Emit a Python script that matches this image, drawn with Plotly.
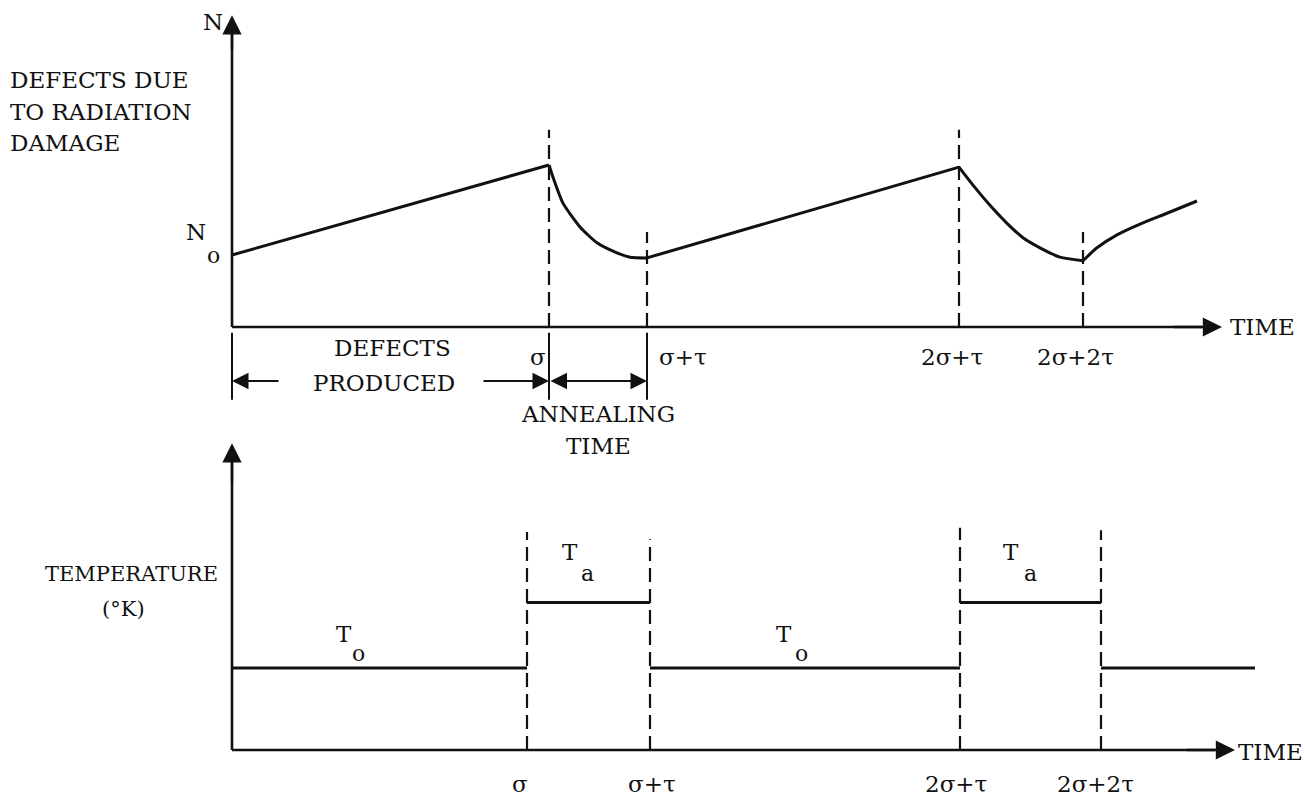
import plotly.graph_objects as go

# ---------------------------------------------------------------------------
# Data (time in arbitrary units, N relative to N0, T relative to T0)
# ---------------------------------------------------------------------------
# Defect density N(t): linear build-up during irradiation, decay while annealing
buildup1_t = [0.0, 3.17]
buildup1_n = [1.00, 2.25]
anneal1_t = [3.17, 3.21, 3.31, 3.48, 3.65, 3.85, 3.98, 4.15]
anneal1_n = [2.25, 2.08, 1.72, 1.39, 1.17, 1.03, 0.97, 0.96]
buildup2_t = [4.15, 7.27]
buildup2_n = [0.96, 2.22]
anneal2_t = [7.27, 7.41, 7.58, 7.75, 7.91, 8.08, 8.28, 8.51]
anneal2_n = [2.22, 1.97, 1.69, 1.44, 1.24, 1.10, 0.97, 0.92]
buildup3_t = [8.51, 8.65, 8.85, 9.08, 9.35, 9.65]
buildup3_n = [0.92, 1.10, 1.28, 1.43, 1.58, 1.75]

# event times on the defect panel: sigma, sigma+tau, 2sigma+tau, 2sigma+2tau
defect_events = [3.17, 4.15, 7.27, 8.51]
defect_event_tops = [2.74, 1.32, 2.74, 1.32]
defect_tick_labels = ["σ", "σ+τ", "2σ+τ", "2σ+2τ"]
n_axis_top = 4.33
n_time_end = 9.90

# Temperature schedule: alternating T0 / Ta
T0 = 1.0
Ta = 1.8
temp_edges = [0.0, 2.95, 4.18, 7.28, 8.69, 10.23]
temp_levels = [T0, Ta, T0, Ta, T0]
temp_event_tops = [2.66, 2.57, 2.71, 2.68]
temp_tick_labels = ["σ", "σ+τ", "2σ+τ", "2σ+2τ"]
t_axis_top = 3.74
t_time_end = 10.03

# ---------------------------------------------------------------------------
# Layout helpers
# ---------------------------------------------------------------------------
W, H = 1305, 799
X0_PX, X_SCALE = 232, 100.0          # time origin and px per time unit
SPLIT_PX = 440                       # boundary between the two panels
N_ORIGIN_PX, N_SCALE = 327, 72.0
T_ORIGIN_PX, T_SCALE = 750, 82.0

BLACK = "#111111"
FONT = "DejaVu Serif"


def fx(x):
    return x / W


def fy(y):
    return 1 - y / H


fig = go.Figure()


def line(xs, ys, axis="y", width=2.6, dash=None, shape="linear", smooth=0.6):
    fig.add_trace(go.Scatter(
        x=xs, y=ys, mode="lines", yaxis=axis, hoverinfo="skip",
        line=dict(color=BLACK, width=width, dash=dash, shape=shape,
                  smoothing=smooth if shape == "spline" else None),
        showlegend=False,
    ))


# ---- top panel: defects ----------------------------------------------------
line([0, 0], [0, n_axis_top - 0.2], "y", 2.6)                 # N axis
line([0, n_time_end - 0.2], [0, 0], "y", 2.6)                 # time axis
line(buildup1_t, buildup1_n, "y", 3.0)
line(anneal1_t, anneal1_n, "y", 3.0, shape="spline")
line(buildup2_t, buildup2_n, "y", 3.0)
line(anneal2_t, anneal2_n, "y", 3.0, shape="spline")
line(buildup3_t, buildup3_n, "y", 3.0, shape="spline", smooth=0.6)

for t, top in zip(defect_events, defect_event_tops):
    line([t, t], [0, top], "y", 2.2, dash="14px,7px")

# dimension extension lines below the time axis
ext_lo, ext_hi = -0.08, -1.01
for t in [0.0, defect_events[0], defect_events[1]]:
    line([t, t], [ext_lo, ext_hi], "y", 2.0)

# ---- bottom panel: temperature ---------------------------------------------
line([0, 0], [0, t_axis_top - 0.2], "y2", 2.6)
line([0, t_time_end - 0.2], [0, 0], "y2", 2.6)
seg_x, seg_y = [], []
for i, lvl in enumerate(temp_levels):
    seg_x += [temp_edges[i], temp_edges[i + 1], None]
    seg_y += [lvl, lvl, None]
line(seg_x, seg_y, "y2", 3.0)
for t, top in zip(temp_edges[1:-1], temp_event_tops):
    line([t, t], [0, top], "y2", 2.2, dash="14px,7px")

# ---------------------------------------------------------------------------
# Arrows and text
# ---------------------------------------------------------------------------
ann = []


def arrow(x, y, ax, ay, yref, head=2, size=1.6, width=2.4, both=False):
    ann.append(dict(
        x=x, y=y, ax=ax, ay=ay, xref="x", yref=yref, axref="x", ayref=yref,
        text="", showarrow=True, arrowhead=head, arrowsize=size,
        arrowwidth=width, arrowcolor=BLACK,
        arrowside="end+start" if both else "end", startarrowhead=head,
        startarrowsize=size,
    ))


# axis arrow heads
arrow(0, n_axis_top, 0, n_axis_top - 0.5, "y")
arrow(n_time_end, 0, n_time_end - 0.5, 0, "y")
arrow(0, t_axis_top, 0, t_axis_top - 0.5, "y2")
arrow(t_time_end, 0, t_time_end - 0.5, 0, "y2")

# dimension arrows under the defect panel
dim_y = (N_ORIGIN_PX - 381) / N_SCALE
arrow(0.0, dim_y, 0.48, dim_y, "y", width=2.2, size=1.5)
arrow(defect_events[0], dim_y, 2.50, dim_y, "y", width=2.2, size=1.5)
arrow(defect_events[1], dim_y, defect_events[0], dim_y, "y", width=2.2,
      size=1.5, both=True)


def text(s, x, y, size=23, xanchor="center"):
    ann.append(dict(
        text=s, x=fx(x), y=fy(y), xref="paper", yref="paper",
        xanchor=xanchor, yanchor="middle", showarrow=False,
        font=dict(family=FONT, size=size, color=BLACK),
    ))


text("N", 213, 22)
text("DEFECTS DUE", 8, 80, xanchor="left")
text("TO RADIATION", 8, 112, xanchor="left")
text("DAMAGE", 8, 143, xanchor="left")
text("N", 196, 232)
text("o", 213, 255, size=22)
text("TIME", 1228, 327, xanchor="left")
text("TIME", 1236, 752, xanchor="left")

# tick labels on the defect panel
for s, x in zip(defect_tick_labels, [538, 683, 952, 1075]):
    text(s, x, 357)
text("DEFECTS", 392, 348)
text("PRODUCED", 384, 383)
text("ANNEALING", 598, 414)
text("TIME", 598, 446)

# temperature panel labels
text("TEMPERATURE", 131, 574, size=21)
text("(°K)", 124, 609, size=21)
for xt, xs in [(344, 358), (784, 801)]:
    text("T", xt, 634)
    text("o", xs, 653, size=22)
for xt, xs in [(570, 587), (1011, 1030)]:
    text("T", xt, 552)
    text("a", xs, 573, size=22)
for s, x in zip(temp_tick_labels, [520, 652, 956, 1095]):
    text(s, x, 784)

# ---------------------------------------------------------------------------
# Axes: one shared time axis, two stacked value axes
# ---------------------------------------------------------------------------
split = 1 - SPLIT_PX / H
fig.update_layout(
    width=W, height=H,
    margin=dict(l=0, r=0, t=0, b=0),
    paper_bgcolor="white", plot_bgcolor="white",
    xaxis=dict(range=[-X0_PX / X_SCALE, (W - X0_PX) / X_SCALE],
               visible=False, fixedrange=True),
    yaxis=dict(domain=[split, 1],
               range=[(N_ORIGIN_PX - SPLIT_PX) / N_SCALE, N_ORIGIN_PX / N_SCALE],
               visible=False, fixedrange=True),
    yaxis2=dict(domain=[0, split],
                range=[(T_ORIGIN_PX - H) / T_SCALE,
                       (T_ORIGIN_PX - SPLIT_PX) / T_SCALE],
                visible=False, fixedrange=True),
    annotations=ann,
    showlegend=False,
)

fig.write_html("out.html")
